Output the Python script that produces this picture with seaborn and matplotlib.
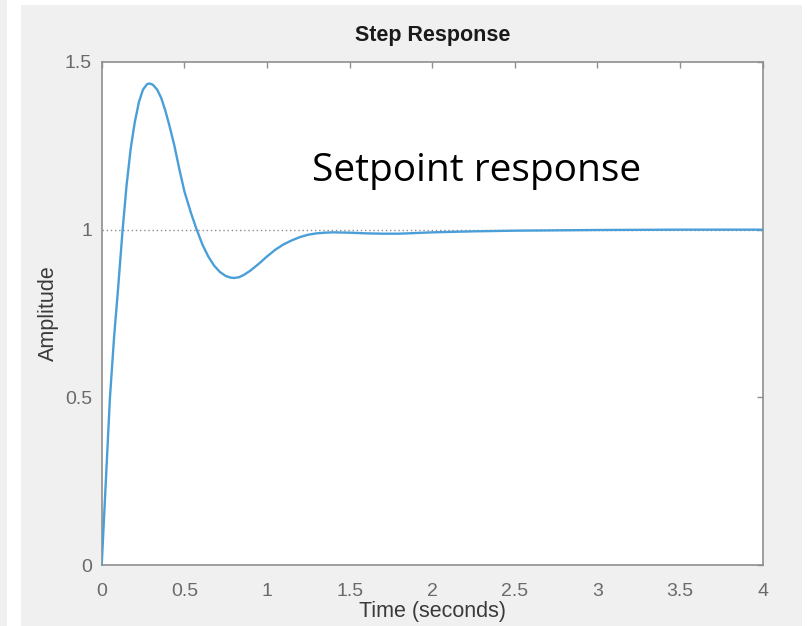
import matplotlib
matplotlib.use("Agg")
import matplotlib.pyplot as plt
from matplotlib.patches import Rectangle
import seaborn as sns
import pandas as pd

time_s = [0.0, 0.025, 0.05, 0.075, 0.1, 0.125, 0.15, 0.175, 0.2, 0.225, 0.25,
          0.275, 0.29, 0.31, 0.335, 0.36, 0.385, 0.41, 0.44, 0.47, 0.5, 0.54,
          0.575, 0.61, 0.645, 0.68, 0.715, 0.75, 0.78, 0.8, 0.83, 0.86, 0.9,
          0.95, 1.0, 1.05, 1.1, 1.15, 1.2, 1.25, 1.3, 1.35, 1.4, 1.5, 1.6,
          1.7, 1.8, 1.9, 2.0, 2.25, 2.5, 2.75, 3.0, 3.5, 4.0]
amplitude = [0.0, 0.25, 0.5, 0.68, 0.83, 0.99, 1.13, 1.24, 1.32, 1.38, 1.418,
             1.434, 1.436, 1.432, 1.418, 1.393, 1.355, 1.31, 1.25, 1.18, 1.115,
             1.05, 1.0, 0.955, 0.92, 0.893, 0.874, 0.862, 0.857, 0.856, 0.858,
             0.865, 0.878, 0.898, 0.92, 0.94, 0.956, 0.968, 0.978, 0.985,
             0.989, 0.991, 0.992, 0.991, 0.989, 0.988, 0.988, 0.99, 0.992,
             0.995, 0.997, 0.998, 0.999, 1.0, 1.0]
setpoint = 1.0
x_ticks = [0, 0.5, 1, 1.5, 2, 2.5, 3, 3.5, 4]
x_tick_labels = ["0", "0.5", "1", "1.5", "2", "2.5", "3", "3.5", "4"]
y_ticks = [0, 0.5, 1, 1.5]
y_tick_labels = ["0", "0.5", "1", "1.5"]
title = "Step Response"
x_label = "Time (seconds)"
y_label = "Amplitude"
annotation = "Setpoint response"

df = pd.DataFrame({"t": time_s, "y": amplitude})

sns.set_theme(style="white")
plt.rcParams["font.family"] = ["Liberation Sans", "DejaVu Sans"]

W, H = 807, 626
fig = plt.figure(figsize=(W / 100, H / 100), dpi=100, facecolor="white")
# grey figure panels
fig.patches.append(Rectangle((21 / W, 0), (802 - 21) / W, (626 - 5) / H,
                             transform=fig.transFigure, facecolor="#f0f0f0",
                             edgecolor="none", zorder=-10))
fig.patches.append(Rectangle((0, 0), 7 / W, 1, transform=fig.transFigure,
                             facecolor="#f0f0f0", edgecolor="none", zorder=-10))

left, right, top, bottom = 101.7, 762.7, 62, 565
ax = fig.add_axes([left / W, (H - bottom) / H, (right - left) / W, (bottom - top) / H])
ax.set_facecolor("white")

ax.axhline(setpoint, color="#8c8c8c", linestyle=(0, (1, 2)), linewidth=1.0, zorder=1)
sns.lineplot(data=df, x="t", y="y", ax=ax, color="#4a9fd8", linewidth=1.7,
             zorder=3, solid_joinstyle="round", solid_capstyle="round")

ax.set_xlim(0, 4)
ax.set_ylim(0, 1.5)
ax.set_xticks(x_ticks)
ax.set_xticklabels(x_tick_labels)
ax.set_yticks(y_ticks)
ax.set_yticklabels(y_tick_labels)

for s in ax.spines.values():
    s.set_visible(True)
    s.set_color("#8f8f8f")
    s.set_linewidth(1.2)

ax.tick_params(axis="both", which="both", direction="in", length=4, width=1.0,
               color="#8f8f8f", labelcolor="#6a6a6a", labelsize=14,
               top=True, right=True)
ax.tick_params(axis="x", pad=13)
ax.tick_params(axis="y", pad=7)

ax.set_xlabel(x_label, fontsize=15.5, color="#3a3a3a")
ax.set_ylabel(y_label, fontsize=15.5, color="#3a3a3a")
ax.xaxis.set_label_coords(0.5, -(611 - bottom) / (bottom - top))
ax.xaxis.label.set_va("center")
ax.yaxis.set_label_coords(-(left - 48) / (right - left), 0.5)
ax.yaxis.label.set_va("center")

ax.set_title(title, fontsize=15.5, fontweight="bold", color="#1a1a1a", pad=15)

ax.text((312 - left) / (right - left), (bottom - 181) / (bottom - top), annotation,
        transform=ax.transAxes, fontsize=28, family=["Open Sans", "DejaVu Sans"],
        color="black", ha="left", va="baseline")

fig.savefig("out.png", dpi=100, facecolor=fig.get_facecolor())
